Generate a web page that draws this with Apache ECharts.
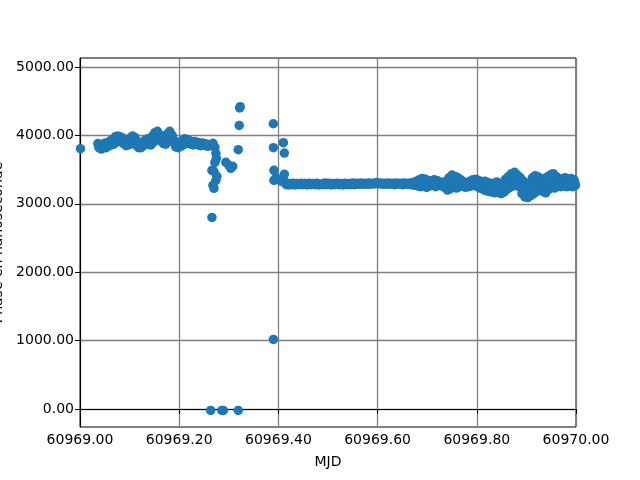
<!DOCTYPE html>
<html>
<head>
<meta charset="utf-8">
<script src="https://cdn.jsdelivr.net/npm/echarts@6/dist/echarts.min.js"></script>
<style>
  html, body { margin: 0; padding: 0; background: #fff; }
  #chart { width: 640px; height: 480px; }
</style>
</head>
<body>
<div id="chart"></div>
<script>
// tick labels
const xTicks = [60969.0, 60969.2, 60969.4, 60969.6, 60969.8, 60970.0];
const yTicks = [0, 1000, 2000, 3000, 4000, 5000];

// premier palier (~3900 ns)
const mjdBand1 = [60969.001,
  60969.036, 60969.038, 60969.041, 60969.043, 60969.046, 60969.048, 60969.051, 60969.053, 60969.056, 60969.058,
  60969.061, 60969.063, 60969.066, 60969.068, 60969.071, 60969.073, 60969.076, 60969.078, 60969.081, 60969.083,
  60969.086, 60969.088, 60969.091, 60969.093, 60969.096, 60969.098, 60969.101, 60969.103, 60969.106, 60969.108,
  60969.111, 60969.113, 60969.116, 60969.118, 60969.121, 60969.123, 60969.126, 60969.128, 60969.131, 60969.133,
  60969.136, 60969.138, 60969.141, 60969.143, 60969.146, 60969.148, 60969.151, 60969.153, 60969.156, 60969.158,
  60969.161, 60969.163, 60969.166, 60969.168, 60969.171, 60969.173, 60969.176, 60969.178, 60969.181, 60969.183,
  60969.186, 60969.188, 60969.191, 60969.193, 60969.196, 60969.198, 60969.201, 60969.203, 60969.206, 60969.208,
  60969.211, 60969.213, 60969.216, 60969.218, 60969.221, 60969.223, 60969.226, 60969.228, 60969.231, 60969.233,
  60969.236, 60969.238, 60969.241, 60969.243, 60969.246, 60969.248, 60969.251, 60969.253, 60969.256, 60969.258];
const phaseBand1 = [3806,
  3880, 3820, 3860, 3800, 3870, 3830, 3890, 3820, 3880, 3850,
  3920, 3860, 3940, 3870, 3980, 3900, 3990, 3930, 3980, 3900,
  3960, 3880, 3940, 3850, 3910, 3860, 3960, 3880, 3990, 3920,
  3970, 3860, 3900, 3820, 3880, 3820, 3900, 3850, 3930, 3870,
  3950, 3880, 3920, 3860, 3990, 3900, 4040, 3950, 4060, 3980,
  4010, 3920, 3960, 3880, 3940, 3870, 4020, 3930, 4060, 3980,
  4000, 3900, 3920, 3830, 3880, 3820, 3870, 3840, 3920, 3860,
  3950, 3880, 3940, 3890, 3920, 3870, 3900, 3860, 3910, 3870,
  3900, 3860, 3880, 3850, 3890, 3860, 3880, 3850, 3870, 3840];

// saut et points isoles
const mjdJump = [60969.268, 60969.272, 60969.274, 60969.275, 60969.272, 60969.266, 60969.270, 60969.276,
  60969.274, 60969.268, 60969.270, 60969.294, 60969.300, 60969.304, 60969.308, 60969.266,
  60969.2634, 60969.286, 60969.289, 60969.319,
  60969.322, 60969.323, 60969.321, 60969.319,
  60969.3898, 60969.390, 60969.391, 60969.391, 60969.390,
  60969.410, 60969.412, 60969.412, 60969.395, 60969.405];
const phaseJump = [3883, 3825, 3737, 3664, 3606, 3489, 3474, 3401,
  3343, 3270, 3226, 3606, 3562, 3518, 3547, 2800,
  -20, -20, -20, -20,
  4400, 4420, 4146, 3791,
  4170, 3820, 3489, 3343, 1017,
  3893, 3742, 3430, 3380, 3330];

// second palier (~3300 ns)
const mjdBand2 = [
  60969.414, 60969.416, 60969.418, 60969.421, 60969.424, 60969.427, 60969.430, 60969.434, 60969.438, 60969.442,
  60969.446, 60969.450, 60969.454, 60969.458, 60969.462, 60969.466, 60969.470, 60969.474, 60969.478, 60969.482,
  60969.486, 60969.490, 60969.494, 60969.498, 60969.502, 60969.506, 60969.510, 60969.514, 60969.518, 60969.522,
  60969.526, 60969.530, 60969.534, 60969.538, 60969.542, 60969.546, 60969.550, 60969.554, 60969.558, 60969.562,
  60969.566, 60969.570, 60969.574, 60969.578, 60969.582, 60969.586, 60969.590, 60969.594, 60969.598, 60969.602,
  60969.606, 60969.610, 60969.614, 60969.618, 60969.622, 60969.626, 60969.630, 60969.634, 60969.638, 60969.642,
  60969.646, 60969.650, 60969.654, 60969.658, 60969.662, 60969.666, 60969.670, 60969.674,
  60969.678, 60969.681, 60969.684, 60969.687, 60969.690, 60969.693, 60969.696, 60969.699, 60969.702, 60969.705,
  60969.708, 60969.711, 60969.714, 60969.717, 60969.720, 60969.723, 60969.726, 60969.729, 60969.732, 60969.735,
  60969.738, 60969.741, 60969.744, 60969.747, 60969.750, 60969.753, 60969.756, 60969.759, 60969.762, 60969.765,
  60969.768, 60969.771, 60969.774, 60969.777, 60969.780, 60969.783, 60969.786, 60969.789, 60969.792, 60969.795,
  60969.798, 60969.801, 60969.804, 60969.807, 60969.810, 60969.813, 60969.816, 60969.819, 60969.822, 60969.825,
  60969.828, 60969.831, 60969.834, 60969.837, 60969.840, 60969.843, 60969.846, 60969.849, 60969.852, 60969.855,
  60969.858, 60969.861, 60969.864, 60969.867, 60969.870, 60969.873, 60969.876, 60969.879, 60969.882, 60969.885,
  60969.888, 60969.891, 60969.894, 60969.897, 60969.900, 60969.903, 60969.906, 60969.909, 60969.912, 60969.915,
  60969.918, 60969.921, 60969.924, 60969.927, 60969.930, 60969.933, 60969.936, 60969.939, 60969.942, 60969.945,
  60969.948, 60969.951, 60969.954, 60969.957, 60969.960, 60969.963, 60969.966, 60969.969, 60969.972, 60969.975,
  60969.978, 60969.981, 60969.984, 60969.987, 60969.990, 60969.993, 60969.996, 60969.999];
const phaseBand2 = [
  3310, 3280, 3300, 3275, 3295, 3280, 3300, 3275, 3295, 3280,
  3300, 3280, 3295, 3275, 3300, 3280, 3295, 3280, 3300, 3275,
  3290, 3280, 3305, 3280, 3300, 3275, 3295, 3280, 3300, 3280,
  3295, 3275, 3300, 3280, 3295, 3280, 3305, 3280, 3300, 3285,
  3305, 3285, 3300, 3285, 3305, 3285, 3300, 3290, 3310, 3290,
  3305, 3285, 3300, 3285, 3305, 3285, 3300, 3280, 3305, 3285,
  3300, 3280, 3305, 3285, 3300, 3280, 3310, 3270,
  3330, 3260, 3350, 3250, 3370, 3270, 3360, 3240, 3340, 3260,
  3330, 3270, 3350, 3250, 3340, 3270, 3320, 3260, 3300, 3240,
  3330, 3200, 3380, 3220, 3420, 3260, 3400, 3230, 3380, 3250,
  3350, 3270, 3320, 3240, 3300, 3250, 3330, 3260, 3350, 3270,
  3360, 3250, 3340, 3230, 3320, 3210, 3330, 3190, 3310, 3180,
  3300, 3170, 3290, 3160, 3320, 3200, 3300, 3150, 3280, 3170,
  3360, 3210, 3400, 3240, 3440, 3260, 3460, 3300, 3420, 3250,
  3380, 3150, 3330, 3100, 3280, 3090, 3300, 3120, 3380, 3150,
  3410, 3180, 3390, 3200, 3360, 3180, 3370, 3160, 3390, 3210,
  3420, 3250, 3440, 3230, 3400, 3260, 3370, 3250, 3360, 3260,
  3380, 3250, 3360, 3260, 3370, 3250, 3350, 3270];

// points du milieu de la bande dispersee (0.68 - 1.0)
const mjdBand2Mid = [
  60969.6795, 60969.6855, 60969.6915, 60969.6975, 60969.7035, 60969.7095, 60969.7155, 60969.7215, 60969.7275, 60969.7335,
  60969.7395, 60969.7455, 60969.7515, 60969.7575, 60969.7635, 60969.7695, 60969.7755, 60969.7815, 60969.7875, 60969.7935,
  60969.7995, 60969.8055, 60969.8115, 60969.8175, 60969.8235, 60969.8295, 60969.8355, 60969.8415, 60969.8475, 60969.8535,
  60969.8595, 60969.8655, 60969.8715, 60969.8775, 60969.8835, 60969.8895, 60969.8955, 60969.9015, 60969.9075, 60969.9135,
  60969.9195, 60969.9255, 60969.9315, 60969.9375, 60969.9435, 60969.9495, 60969.9555, 60969.9615, 60969.9675, 60969.9735,
  60969.9795, 60969.9855, 60969.9915, 60969.9975];
const phaseBand2Mid = [
  3295, 3300, 3320, 3300, 3300, 3300, 3300, 3305, 3290, 3270,
  3265, 3300, 3340, 3315, 3315, 3310, 3280, 3275, 3295, 3310,
  3305, 3285, 3265, 3260, 3245, 3235, 3225, 3260, 3225, 3225,
  3285, 3320, 3350, 3380, 3335, 3265, 3215, 3185, 3210, 3265,
  3295, 3295, 3270, 3265, 3300, 3335, 3335, 3330, 3310, 3310,
  3315, 3310, 3310, 3310];

const mjd = mjdBand1.concat(mjdJump, mjdBand2, mjdBand2Mid);
const phase = phaseBand1.concat(phaseJump, phaseBand2, phaseBand2Mid);
const points = mjd.map((x, i) => [x, phase[i]]);

const chart = echarts.init(document.getElementById('chart'));
const fontFamily = 'DejaVu Sans';

const option = {
  animation: false,
  backgroundColor: '#ffffff',
  textStyle: { fontFamily: fontFamily },
  grid: {
    left: 80, right: 64, top: 58, bottom: 53,
    containLabel: false,
    outerBoundsMode: 'none',
    show: true, borderColor: '#000', borderWidth: 1, backgroundColor: 'transparent'
  },
  xAxis: {
    type: 'value',
    min: xTicks[0],
    max: xTicks[xTicks.length - 1],
    interval: 0.2,
    name: 'MJD',
    nameLocation: 'middle',
    nameGap: 28,
    nameTextStyle: { color: '#000', fontSize: 14, fontFamily: fontFamily },
    axisLine: { show: true, lineStyle: { color: '#000', width: 1 } },
    axisTick: { show: true, length: 5, lineStyle: { color: '#000' } },
    axisLabel: {
      color: '#000', fontSize: 14, fontFamily: fontFamily, margin: 6,
      formatter: v => v.toFixed(2)
    },
    splitLine: { show: true, lineStyle: { color: '#808080', width: 1.3 } }
  },
  yAxis: {
    type: 'value',
    min: -263,
    max: 5131,
    name: 'Phase en nanoseconde',
    nameLocation: 'middle',
    nameGap: 74,
    nameTextStyle: { color: '#000', fontSize: 14, fontFamily: fontFamily },
    axisLine: { show: true, lineStyle: { color: '#000', width: 1 } },
    axisTick: { show: true, length: 5, customValues: yTicks, lineStyle: { color: '#000' } },
    axisLabel: {
      color: '#000', fontSize: 14, fontFamily: fontFamily, margin: 6,
      customValues: yTicks,
      formatter: v => v.toFixed(2)
    },
    splitLine: { show: true, lineStyle: { color: '#808080', width: 1.3 } }
  },
  series: [{
    type: 'scatter',
    data: points,
    symbolSize: 9.5,
    itemStyle: { color: '#1f77b4', opacity: 1 },
    clip: true
  }]
};

chart.setOption(option);
</script>
</body>
</html>
